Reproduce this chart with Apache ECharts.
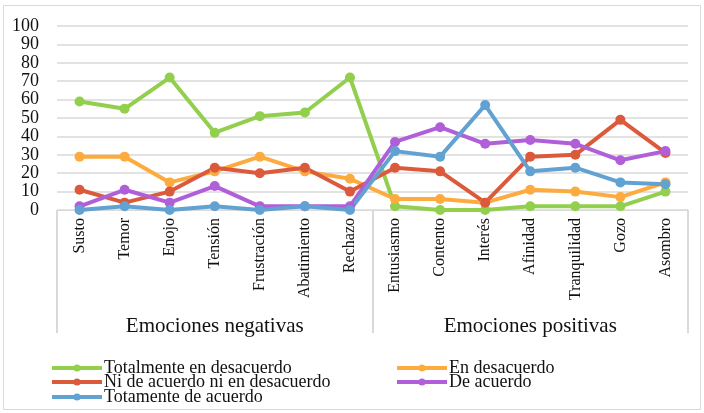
<!DOCTYPE html>
<html>
<head>
<meta charset="utf-8">
<script src="https://cdn.jsdelivr.net/npm/echarts@6/dist/echarts.min.js"></script>
<style>
html,body{margin:0;padding:0;background:#fff;}
#chart{width:704px;height:413px;}
</style>
</head>
<body>
<div id="chart"></div>
<script>
const categories = ['Susto','Temor','Enojo','Tensión','Frustración','Abatimiento','Rechazo','Entusiasmo','Contento','Interés','Afinidad','Tranquilidad','Gozo','Asombro'];
const groups = ['Emociones negativas','Emociones positivas'];
const seriesNames = ['Totalmente en desacuerdo','En desacuerdo','Ni de acuerdo ni en desacuerdo','De acuerdo','Totamente de acuerdo'];
const totalmenteDesacuerdo = [59,55,72,42,51,53,72,2,0,0,2,2,2,10];
const enDesacuerdo = [29,29,15,21,29,21,17,6,6,4,11,10,7,15];
const niNi = [11,4,10,23,20,23,10,23,21,4,29,30,49,31];
const deAcuerdo = [2,11,4,13,2,2,2,37,45,36,38,36,27,32];
const totamenteAcuerdo = [0,2,0,2,0,2,0,32,29,57,21,23,15,14];
const yTicks = {min:0, max:100, interval:10};

const colors = ['#92cf4c','#fdab3e','#dc5a3c','#b05fd9','#62a2d2'];
const values = [totalmenteDesacuerdo, enDesacuerdo, niNi, deAcuerdo, totamenteAcuerdo];
const font = "'Liberation Serif', 'Times New Roman', serif";

// legend layout slots: [left, top] per series
const legendSlots = [[50,359],[395,359],[50,373],[395,373],[50,388]];

const chart = echarts.init(document.getElementById('chart'), null, {renderer:'canvas'});
const option = {
  animation: false,
  color: colors,
  textStyle:{fontFamily:font},
  grid: {left:57, right:16, top:26, bottom:203, containLabel:false},
  graphic: [{
    type:'rect', shape:{x:3.5, y:5.5, width:697, height:404},
    style:{fill:'none', stroke:'#d9d9d9', lineWidth:1}, silent:true
  }],
  legend: seriesNames.map((n,i)=>({
    orient:'horizontal', padding:0, left:legendSlots[i][0], top:legendSlots[i][1],
    itemWidth:50, itemHeight:9, lineStyle:{width:4},
    textStyle:{fontFamily:font, fontSize:18, color:'#111', lineHeight:18, padding:[0,0,0,-3]},
    data:[n]
  })),
  xAxis: [{
    type:'category', data:categories, boundaryGap:true,
    axisLine:{show:true, lineStyle:{color:'#d9d9d9', width:1}},
    axisTick:{show:false},
    axisLabel:{rotate:90, margin:8, fontFamily:font, fontSize:16, color:'#111', interval:0}
  },{
    type:'category', data:groups, position:'bottom', boundaryGap:true,
    axisLine:{show:false},
    axisTick:{show:true, length:123, lineStyle:{color:'#d9d9d9', width:2}},
    axisLabel:{margin:106, fontFamily:font, fontSize:21, color:'#111', interval:0},
    splitLine:{show:false}
  }],
  yAxis: {
    type:'value', min:yTicks.min, max:yTicks.max, interval:yTicks.interval,
    axisLine:{show:false}, axisTick:{show:false},
    splitLine:{lineStyle:{color:'#d9d9d9', width:1.5}},
    axisLabel:{margin:18, fontFamily:font, fontSize:18, color:'#111'}
  },
  series: seriesNames.map((n,i)=>({
    name:n, type:'line', data:values[i], xAxisIndex:0,
    symbol:'circle', symbolSize:10,
    lineStyle:{width:4, color:colors[i]},
    itemStyle:{color:colors[i]}
  }))
};
chart.setOption(option);
</script>
</body>
</html>
